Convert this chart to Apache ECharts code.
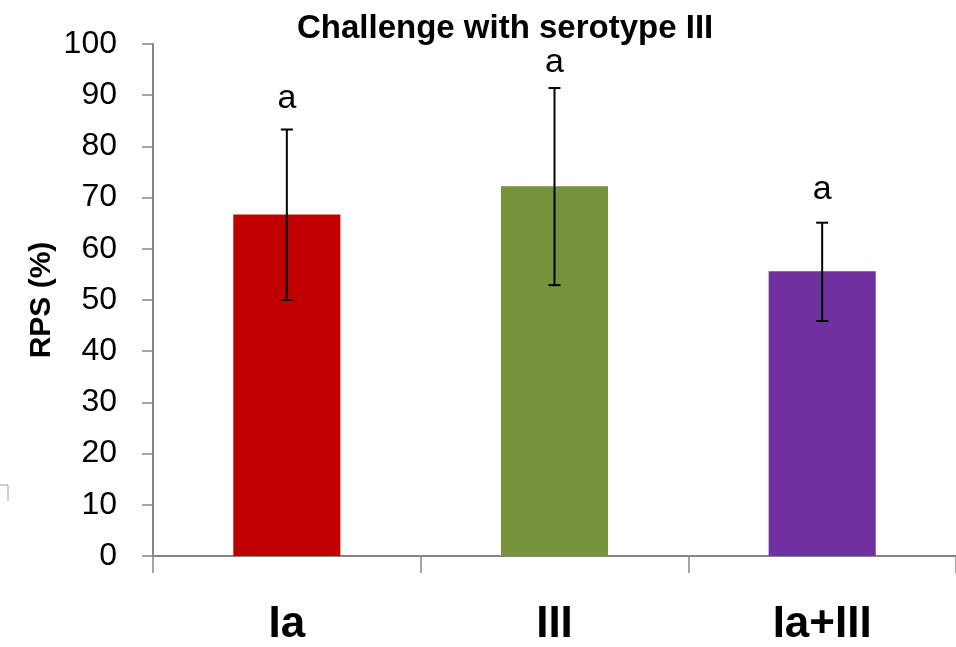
<!DOCTYPE html>
<html>
<head>
<meta charset="utf-8">
<script src="https://cdn.jsdelivr.net/npm/echarts@6/dist/echarts.min.js"></script>
<style>
    html, body {margin: 0; padding: 0; background: #fff;}
    #chart {width: 956px; height: 647px;}
</style>
</head>
<body>
<div id="chart"></div>
<script>
var categories = ['Ia', 'III', 'Ia+III'];
var rps = [66.7, 72.2, 55.6];          // 柱高
var errLow = [50.0, 52.9, 45.9];       // 误差线下端
var errHigh = [83.3, 91.4, 65.1];      // 误差线上端
var letters = ['a', 'a', 'a'];         // 显著性字母
var letterAt = [88.8, 95.8, 70.9];     // 字母所在的 y 值
var barColors = ['#C00000', '#77933C', '#7030A0'];
var yTicks = [0, 100, 10];             // min, max, interval

var axisGrey = '#868686';
var fontName = '"Liberation Sans", Arial, sans-serif';

var barData = [];
for (var i = 0; i < rps.length; i++) {
    barData.push({value: rps[i], itemStyle: {color: barColors[i]}});
}
var errData = [];
for (var i = 0; i < rps.length; i++) {
    errData.push([i, errLow[i], errHigh[i]]);
}
var letterData = [];
for (var i = 0; i < letters.length; i++) {
    letterData.push({value: [i, letterAt[i]], name: letters[i]});
}

function drawErr(params, api) {
    var lo = api.coord([api.value(0), api.value(1)]);
    var hi = api.coord([api.value(0), api.value(2)]);
    var half = 6;
    var style = {stroke: '#000', lineWidth: 2};
    return {
        type: 'group',
        children: [
            {type: 'line', shape: {x1: hi[0], y1: hi[1], x2: lo[0], y2: lo[1]}, style: style},
            {type: 'line', shape: {x1: hi[0] - half, y1: hi[1], x2: hi[0] + half, y2: hi[1]}, style: style},
            {type: 'line', shape: {x1: lo[0] - half, y1: lo[1], x2: lo[0] + half, y2: lo[1]}, style: style}
        ]
    };
}

var myChart = echarts.init(document.getElementById('chart'));
var option = {
    backgroundColor: '#fff',
    animation: false,
    title: {
        text: 'Challenge with serotype III',
        left: 292,
        top: 7,
        textStyle: {fontFamily: fontName, fontSize: 33, fontWeight: 'bold', color: '#000'}
    },
    grid: {left: 153, top: 44, width: 807, height: 513},
    xAxis: {
        type: 'category',
        data: categories,
        boundaryGap: true,
        axisLine: {lineStyle: {color: axisGrey, width: 2}},
        axisTick: {show: true, length: 17, lineStyle: {color: axisGrey, width: 1.5}},
        axisLabel: {
            margin: 47,
            fontFamily: fontName, fontSize: 44, fontWeight: 'bold', color: '#000'
        },
        splitLine: {show: false}
    },
    yAxis: {
        type: 'value',
        min: yTicks[0],
        max: yTicks[1],
        interval: yTicks[2],
        name: 'RPS (%)',
        nameLocation: 'middle',
        nameRotate: 90,
        nameGap: 96,
        nameMoveOverlap: false,
        nameTextStyle: {fontFamily: fontName, fontSize: 30, fontWeight: 'bold', color: '#000'},
        axisLine: {show: true, lineStyle: {color: axisGrey, width: 2}},
        axisTick: {show: true, length: 11, lineStyle: {color: axisGrey, width: 1.5}},
        axisLabel: {margin: 36, fontFamily: fontName, fontSize: 32, color: '#000'},
        splitLine: {show: false}
    },
    graphic: [{
        type: 'polyline',
        shape: {points: [[0, 485], [8, 485], [8, 501]]},
        style: {stroke: '#a0a0a0', lineWidth: 1, fill: null}
    }],
    series: [
        {
            name: 'RPS',
            type: 'bar',
            barWidth: '40%',
            data: barData
        },
        {
            name: 'err',
            type: 'custom',
            renderItem: drawErr,
            data: errData,
            z: 5
        },
        {
            name: 'letters',
            type: 'scatter',
            symbolSize: 0,
            itemStyle: {opacity: 1},
            data: letterData,
            label: {
                show: true,
                position: 'inside',
                offset: [0, -3],
                formatter: '{b}',
                fontFamily: fontName,
                fontSize: 34,
                color: '#000',
                opacity: 1,
                textBorderWidth: 0
            },
            z: 6
        }
    ]
};
myChart.setOption(option);
</script>
</body>
</html>
